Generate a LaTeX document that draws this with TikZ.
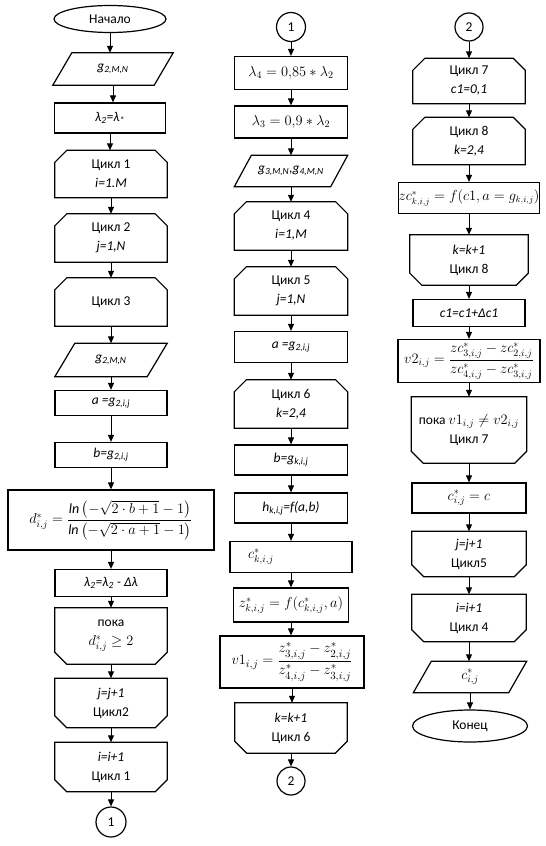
\documentclass[tikz,border=0pt]{standalone}
\usepackage{fontspec}
\setmainfont{Carlito}
\usepackage{amsmath}
\usetikzlibrary{arrows.meta,shapes.geometric}
\newcommand\myLoopTop[1]{\draw[shp] ([yshift=-12pt]#1.north west) -- ([xshift=12pt]#1.north west) -- ([xshift=-12pt]#1.north east) -- ([yshift=-12pt]#1.north east) -- (#1.south east) -- (#1.south west) -- cycle;}
\newcommand\myLoopBot[1]{\draw[shp] (#1.north west) -- (#1.north east) -- ([yshift=12pt]#1.south east) -- ([xshift=-12pt]#1.south east) -- ([xshift=12pt]#1.south west) -- ([yshift=12pt]#1.south west) -- cycle;}
\newcommand\myPara[2]{\draw[shp] ([xshift=#2]#1.north west) -- (#1.north east) -- ([xshift=-#2]#1.south east) -- (#1.south west) -- cycle;}
\newcommand\myArr[2]{\draw[arr] (#1.south) -- (#1.south |- #2.north);}
\newcommand\fm{\fontsize{14}{16}\selectfont}
\newcommand\ffr{\fontsize{15.5}{18}\selectfont}
\newcommand\myIt[1]{\textit{#1}}
\newcommand\mySb[1]{\textsubscript{\textit{#1}}}
\tikzset{
  shp/.style={line width=1.2pt, draw=black},
  arr/.style={line width=1pt, -{Triangle[length=7pt,width=6pt]}},
  nd/.style={inner sep=1pt, align=center, font=\fontsize{13.5}{19}\selectfont},
  proc/.style={nd, draw, line width=1.2pt, rectangle},
  term/.style={nd, draw, line width=1.2pt, ellipse, inner sep=0pt},
  conn/.style={nd, draw, line width=1.2pt, circle, inner sep=0pt},
}
\begin{document}
\begin{tikzpicture}[x=1pt,y=-1pt]
\useasboundingbox[fill=white] (0,0) rectangle (546,846);
% ---------- column 1
\node[term, minimum width=112pt, minimum height=27pt] (s1) at (110,19) {Начало};
\node[nd, minimum width=120pt, minimum height=32pt] (p1) at (113,69) {\myIt{g}\mySb{2,M,N}};
\myPara{p1}{19pt}
\node[proc, minimum width=111pt, minimum height=30pt] (b1) at (110,118) {\myIt{λ}\mySb{2}\myIt{=λ}\mySb{*}};
\node[nd, minimum width=112pt, minimum height=47pt] (L1) at (111,174) {Цикл 1\\\myIt{i=1.M}};
\myLoopTop{L1}
\node[nd, minimum width=112pt, minimum height=48pt] (L2) at (111,238) {Цикл 2\\\myIt{j=1,N}};
\myLoopTop{L2}
\node[nd, minimum width=112pt, minimum height=48pt] (L3) at (111,302) {Цикл 3};
\myLoopTop{L3}
\node[nd, minimum width=112pt, minimum height=33pt] (p2) at (111,360) {\myIt{g}\mySb{2,M,N}};
\myPara{p2}{20pt}
\node[proc, minimum width=112pt, minimum height=25pt] (b2) at (111,403) {\myIt{a =g}\mySb{2,i,j}};
\node[proc, minimum width=112pt, minimum height=25pt] (b3) at (111,455) {\myIt{b=g}\mySb{2,i,j}};
\node[proc, minimum width=206pt, minimum height=60pt] (b4) at (111,520) {\fm$d^{*}_{i,j} = \dfrac{\mathit{ln}\left(-\sqrt{2\cdot b+1}-1\right)}{\mathit{ln}\left(-\sqrt{2\cdot a+1}-1\right)}$};
\node[proc, minimum width=112pt, minimum height=27pt] (b5) at (111,583) {\myIt{λ}\mySb{2}\myIt{=λ}\mySb{2}\myIt{ - Δλ}};
\node[nd, minimum width=112pt, minimum height=56pt] (E1) at (111,636) {пока\\\fm$d^{*}_{i,j}\geq 2$};
\myLoopBot{E1}
\node[nd, minimum width=112pt, minimum height=49pt] (E2) at (111,703) {\myIt{j=j+1}\\Цикл2};
\myLoopBot{E2}
\node[nd, minimum width=112pt, minimum height=49pt] (E3) at (111,767) {\myIt{i=i+1}\\Цикл 1};
\myLoopBot{E3}
\node[conn, minimum size=30pt] (c1) at (111,822) {1};
\myArr{s1}{p1}\myArr{p1}{b1}\myArr{b1}{L1}\myArr{L1}{L2}\myArr{L2}{L3}\myArr{L3}{p2}
\myArr{p2}{b2}\myArr{b2}{b3}\myArr{b3}{b4}\myArr{b4}{b5}\myArr{b5}{E1}\myArr{E1}{E2}
\myArr{E2}{E3}\myArr{E3}{c1}
% ---------- column 2
\node[conn, minimum size=29pt] (cA) at (291,27) {1};
\node[proc, minimum width=113pt, minimum height=33pt] (m1) at (291,73) {\fm$\lambda_4 = 0{,}85 * \lambda_2$};
\node[proc, minimum width=113pt, minimum height=32pt] (m2) at (291,122) {\fm$\lambda_3 = 0{,}9 * \lambda_2$};
\node[nd, minimum width=113pt, minimum height=31pt] (mp) at (291,171) {\myIt{g}\mySb{3,M,N}\myIt{,g}\mySb{4,M,N}};
\myPara{mp}{17pt}
\node[nd, minimum width=113pt, minimum height=48pt] (M4) at (291,226) {Цикл 4\\\myIt{i=1,M}};
\myLoopTop{M4}
\node[nd, minimum width=113pt, minimum height=48pt] (M5) at (291,291) {Цикл 5\\\myIt{j=1,N}};
\myLoopTop{M5}
\node[proc, minimum width=113pt, minimum height=31pt] (m3) at (291,347) {\myIt{a =g}\mySb{2,i,j}};
\node[nd, minimum width=113pt, minimum height=48pt] (M6) at (291,404) {Цикл 6\\\myIt{k=2,4}};
\myLoopTop{M6}
\node[proc, minimum width=113pt, minimum height=30pt] (m4) at (291,460) {\myIt{b=g}\mySb{k,i,j}};
\node[proc, minimum width=113pt, minimum height=30pt] (m5) at (291,508) {\myIt{h}\mySb{k,i,j}\myIt{=f(a,b)}};
\node[proc, minimum width=122pt, minimum height=31pt, text width=86pt, align=left] (m6) at (291,557) {\fm$c^{*}_{k,i,j}$};
\node[proc, minimum width=115pt, minimum height=34pt] (m7) at (291,605) {\fm$z^{*}_{k,i,j} = f(c^{*}_{k,i,j}, a)$};
\node[proc, minimum width=144pt, minimum height=52pt] (m8) at (292,662) {\ffr$v1_{i,j} = \dfrac{z^{*}_{3,i,j} - z^{*}_{2,i,j}}{z^{*}_{4,i,j} - z^{*}_{3,i,j}}$};
\node[nd, minimum width=112pt, minimum height=50pt] (M9) at (291,728) {\myIt{k=k+1}\\Цикл 6};
\myLoopBot{M9}
\node[conn, minimum size=28pt] (cB) at (291,781) {2};
\myArr{cA}{m1}\myArr{m1}{m2}\myArr{m2}{mp}\myArr{mp}{M4}\myArr{M4}{M5}\myArr{M5}{m3}
\myArr{m3}{M6}\myArr{M6}{m4}\myArr{m4}{m5}\myArr{m5}{m6}\myArr{m6}{m7}\myArr{m7}{m8}
\myArr{m8}{M9}\myArr{M9}{cB}
% ---------- column 3
\node[conn, minimum size=28pt] (cC) at (469,27) {2};
\node[nd, minimum width=112pt, minimum height=45pt] (R7) at (469,81) {Цикл 7\\\myIt{c1=0,1}};
\myLoopTop{R7}
\node[nd, minimum width=112pt, minimum height=47pt] (R8) at (469,141) {Цикл 8\\\myIt{k=2,4}};
\myLoopTop{R8}
\node[proc, minimum width=134pt, minimum height=31pt, inner sep=0pt] (r1) at (469,198) {\fontsize{13.3}{15}\selectfont$zc^{*}_{k,i,j} = f(c1, a = g_{k,i,j})$};
\node[nd, minimum width=118pt, minimum height=50pt] (R9) at (469,260) {\myIt{k=k+1}\\Цикл 8};
\myLoopBot{R9}
\node[proc, minimum width=112pt, minimum height=27pt] (r2) at (469,313) {\myIt{c1=c1+Δc1}};
\node[proc, minimum width=142pt, minimum height=43pt, inner sep=0pt] (r3) at (469,361) {\fontsize{14.5}{16}\selectfont$v2_{i,j} = \dfrac{zc^{*}_{3,i,j} - zc^{*}_{2,i,j}}{zc^{*}_{4,i,j} - zc^{*}_{3,i,j}}$};
\node[nd, minimum width=115pt, minimum height=66pt] (R10) at (469,430) {пока {\fm$v1_{i,j} \neq v2_{i,j}$}\\Цикл 7};
\myLoopBot{R10}
\node[proc, minimum width=114pt, minimum height=30pt] (r4) at (469,498) {\fm$c^{*}_{i,j} = c$};
\node[nd, minimum width=114pt, minimum height=45pt] (R11) at (469,554) {\myIt{j=j+1}\\Цикл5};
\myLoopBot{R11}
\node[nd, minimum width=114pt, minimum height=47pt] (R12) at (469,618) {\myIt{i=i+1}\\Цикл 4};
\myLoopBot{R12}
\node[nd, minimum width=113pt, minimum height=31pt] (rp) at (470,677) {\fm$c^{*}_{i,j}$};
\myPara{rp}{18pt}
\node[term, minimum width=115pt, minimum height=32pt] (e) at (470,726) {Конец};
\myArr{cC}{R7}\myArr{R7}{R8}\myArr{R8}{r1}\myArr{r1}{R9}\myArr{R9}{r2}\myArr{r2}{r3}
\myArr{r3}{R10}\myArr{R10}{r4}\myArr{r4}{R11}\myArr{R11}{R12}\myArr{R12}{rp}\myArr{rp}{e}
\end{tikzpicture}
\end{document}
